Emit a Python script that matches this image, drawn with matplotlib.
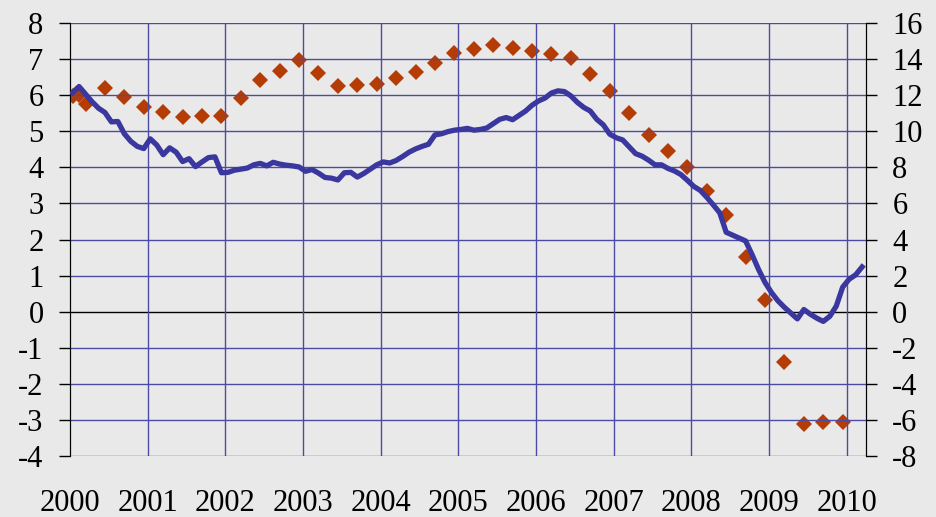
import matplotlib.pyplot as plt
import numpy as np

plt.rcParams['font.family'] = ['Liberation Serif', 'DejaVu Serif']
plt.rcParams['axes.unicode_minus'] = False

# monthly series, Jan 2000 .. Mar 2010 (left axis)
line_vals = [6.07, 6.24, 6.03, 5.82, 5.64, 5.52, 5.26, 5.27, 4.93, 4.72, 4.58, 4.52,
             4.79, 4.62, 4.35, 4.54, 4.42, 4.16, 4.24, 4.02, 4.15, 4.27, 4.29, 3.85,
             3.86, 3.92, 3.95, 3.98, 4.07, 4.11, 4.04, 4.14, 4.09, 4.06, 4.04, 4.01,
             3.89, 3.94, 3.84, 3.72, 3.70, 3.65, 3.85, 3.86, 3.73, 3.83, 3.95, 4.07,
             4.15, 4.12, 4.19, 4.30, 4.42, 4.51, 4.58, 4.64, 4.90, 4.93, 4.99, 5.03,
             5.05, 5.08, 5.03, 5.05, 5.09, 5.21, 5.33, 5.38, 5.32, 5.44, 5.56, 5.72,
             5.84, 5.92, 6.06, 6.12, 6.10, 5.98, 5.80, 5.66, 5.56, 5.33, 5.18, 4.92,
             4.82, 4.76, 4.57, 4.38, 4.31, 4.20, 4.07, 4.07, 3.97, 3.90, 3.80, 3.64,
             3.47, 3.36, 3.17, 2.96, 2.74, 2.20, 2.12, 2.04, 1.96, 1.58, 1.17, 0.81,
             0.53, 0.30, 0.12, -0.04, -0.20, 0.06, -0.07, -0.18, -0.27, -0.13, 0.15, 0.68,
             0.90, 1.02, 1.24]

# diamond series (right axis): months index from Jan 2000
dot_months = [0, 1] + list(range(2, 120, 3))
dot_vals = [11.96, 12.00, 11.52, 12.42, 11.88, 11.32, 11.04, 10.78, 10.84, 10.84,
            11.82, 12.84, 13.36, 13.96, 13.24, 12.50, 12.56, 12.60, 12.94, 13.30,
            13.80, 14.32, 14.54, 14.78, 14.60, 14.44, 14.28, 14.08, 13.16, 12.24,
            11.00, 9.80, 8.90, 8.04, 6.70, 5.36, 3.02, 0.66, -2.80, -6.22,
            -6.14, -6.10]

years = list(range(2000, 2011))

def month_to_x(m):
    return 2000 + (np.asarray(m) + 0.4) / 12

bg = '#e9e9e9'
grid_c = '#4b4ba6'
fig = plt.figure(figsize=(9.37, 5.17), dpi=100, facecolor=bg)
ax = fig.add_axes([0.0747, 0.118, 0.8495, 0.8375], facecolor=bg)
ax2 = ax.twinx()

ax.set_xlim(2000, 2010.25)
ax.set_ylim(-4, 8)
ax2.set_ylim(-8, 16)

for y in range(-4, 9):
    ax.axhline(y, color='black' if y == 0 else grid_c, lw=1.0, zorder=1)
for yr in years[1:]:
    ax.axvline(yr, color=grid_c, lw=1.0, zorder=1)

ax2.plot(month_to_x(dot_months), dot_vals, 'D', color='#b53d05', markersize=8.5,
         markeredgewidth=0, zorder=3)
ax.plot(month_to_x(np.arange(len(line_vals))), line_vals, '-', color='#3a379f',
        lw=3.8, solid_joinstyle='round', zorder=4)
ax.set_zorder(ax2.get_zorder() + 1)
ax.patch.set_visible(False)
ax2.patch.set_facecolor(bg)

for a in (ax, ax2):
    a.spines['top'].set_visible(False)
    a.spines['bottom'].set_visible(False)
    a.spines['left'].set_color('black')
    a.spines['right'].set_color('black')

ax.set_yticks(range(-4, 9))
ax2.set_yticks(range(-8, 17, 2))
ax.tick_params(axis='y', length=8, width=1, pad=11, labelsize=22, colors='black')
ax2.tick_params(axis='y', length=8, width=1, pad=11, labelsize=22, colors='black')
ax.set_xticks(years)
ax.set_xticklabels([str(y) for y in years])
ax.tick_params(axis='x', length=0, pad=24, labelsize=22)

fig.savefig('out.png', dpi=100, facecolor=bg)
